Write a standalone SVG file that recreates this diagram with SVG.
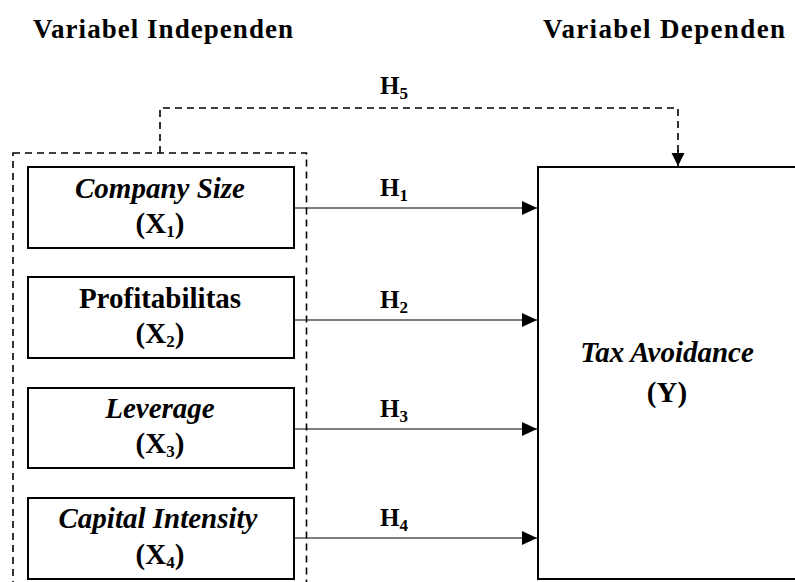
<svg xmlns="http://www.w3.org/2000/svg" width="795" height="582" viewBox="0 0 795 582">
<style>
  .bg{fill:#fff}
  .box{fill:#fff;stroke:#000;stroke-width:2}
  .dash{fill:none;stroke:#000;stroke-width:1.6;stroke-dasharray:7,5}
  .arr{fill:none;stroke:#000;stroke-width:1.2}
  text{font-family:'Liberation Serif','Times New Roman','DejaVu Serif',serif;fill:#000;font-weight:bold}
  .hdr{font-size:27px}
  .lbl{font-size:29px;text-anchor:middle}
  .it{font-style:italic}
  .h{font-size:25px}
  .sub{font-size:17px}
</style>
<defs>
  <marker id="ah" markerUnits="userSpaceOnUse" markerWidth="16" markerHeight="14" refX="15" refY="7" orient="auto">
    <path d="M0,0 L15,7 L0,14 Z" fill="#000"/>
  </marker>
  <marker id="ah2" markerUnits="userSpaceOnUse" markerWidth="14" markerHeight="14" refX="13" refY="6.5" orient="auto">
    <path d="M0,0 L13,6.5 L0,13 Z" fill="#000"/>
  </marker>
</defs>
<rect class="bg" x="0" y="0" width="795" height="582"/>
<g id="headers" font-family="Liberation Serif, serif">
  <text class="hdr" x="33" y="38" textLength="260" lengthAdjust="spacing">Variabel Independen</text>
  <text class="hdr" x="543" y="38" textLength="242" lengthAdjust="spacing">Variabel Dependen</text>
</g>
<g id="group-independen">
  <rect class="dash" x="13" y="153" width="293.5" height="440"/>
</g>
<g id="X1">
  <rect class="box" x="28" y="167" width="266" height="81"/>
  <text class="lbl it" x="160" y="198">Company Size</text>
  <text class="lbl" x="160" y="233">(X<tspan class="sub" dy="4">1</tspan><tspan dy="-4">)</tspan></text>
</g>
<g id="X2">
  <rect class="box" x="28" y="277" width="266" height="81"/>
  <text class="lbl" x="160" y="308">Profitabilitas</text>
  <text class="lbl" x="160" y="343">(X<tspan class="sub" dy="4">2</tspan><tspan dy="-4">)</tspan></text>
</g>
<g id="X3">
  <rect class="box" x="28" y="388" width="266" height="80"/>
  <text class="lbl it" x="160" y="418">Leverage</text>
  <text class="lbl" x="160" y="453">(X<tspan class="sub" dy="4">3</tspan><tspan dy="-4">)</tspan></text>
</g>
<g id="X4">
  <rect class="box" x="28" y="498" width="266" height="81"/>
  <text class="lbl it" x="158" y="528">Capital Intensity</text>
  <text class="lbl" x="160" y="564">(X<tspan class="sub" dy="4">4</tspan><tspan dy="-4">)</tspan></text>
</g>
<g id="Y">
  <rect class="box" x="538" y="167" width="270" height="412"/>
  <text class="lbl it" x="667" y="362">Tax Avoidance</text>
  <text class="lbl" x="667" y="402">(Y)</text>
</g>
<g id="connectors">
  <path class="dash" d="M160,153 V108 H678 V154"/>
  <path d="M678,150 V166" stroke="#000" stroke-width="1.6" marker-end="url(#ah2)"/>
  <line class="arr" x1="294" y1="208" x2="537" y2="208" marker-end="url(#ah)"/>
  <line class="arr" x1="294" y1="320" x2="537" y2="320" marker-end="url(#ah)"/>
  <line class="arr" x1="294" y1="429" x2="537" y2="429" marker-end="url(#ah)"/>
  <line class="arr" x1="294" y1="538" x2="537" y2="538" marker-end="url(#ah)"/>
</g>
<g id="labels">
  <text class="h" x="380" y="94">H<tspan class="sub" dy="5">5</tspan></text>
  <text class="h" x="380" y="196">H<tspan class="sub" dy="5">1</tspan></text>
  <text class="h" x="380" y="308">H<tspan class="sub" dy="5">2</tspan></text>
  <text class="h" x="380" y="417">H<tspan class="sub" dy="5">3</tspan></text>
  <text class="h" x="380" y="526">H<tspan class="sub" dy="5">4</tspan></text>
</g>
</svg>
